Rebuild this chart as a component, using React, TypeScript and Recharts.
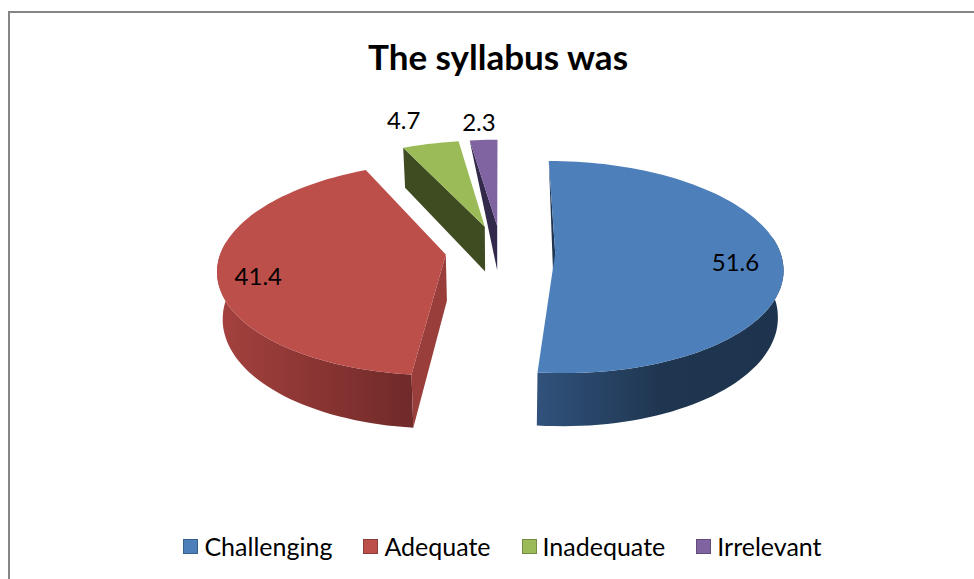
import { Legend, Pie, PieChart } from 'recharts'

const CATEGORIES = ['Challenging', 'Adequate', 'Inadequate', 'Irrelevant']
const VALUES = [51.6, 41.4, 4.7, 2.3]

const TOP_COLORS = ['#4d7fbb', '#bd4f4b', '#9bbb59', '#8064a2']
const WALL_COLORS = ['#1f3550', '#9a3e3c', '#3f4b21', '#33294a']
const RIM_STOPS = [
  ['#31527c', '#1f3650', '#1e344e'],
  ['#a5423f', '#8a3533', '#6f2a29'],
]

// how far each slice is pulled out of the pie, in radius units
const EXPLODE_X = [0.245, -0.24, -0.07, -0.013]
const EXPLODE_Y = [-0.01, -0.025, 0.25, 0.26]
const LABEL_RADIUS = [0.8, 0.84, 1.34, 1.22]
const LABEL_SHIFT_X = [-1, 4, -11, -2]
const LABEL_SHIFT_Y = [4, 6, 0, -2]
const TAPERED_WALL = [true, false, false, true]

const RAD = Math.PI / 180
const SQUASH = 0.462
const TILT = 0.132
const DEPTH = 46
const BASE_SHRINK = 0.98

// tilted view of the pie plane: far points shrink towards the chart centre
function project(cx: number, cy: number, r: number, px: number, py: number, base = false) {
  const w = 1 + TILT * py
  const x = (r * px) / w
  return {
    x: cx + (base ? x * BASE_SHRINK : x),
    y: cy + (-r * SQUASH * py + (base ? DEPTH : 0)) / w,
  }
}

function toPoints(pts: { x: number; y: number }[]) {
  return pts.map((p) => `${p.x.toFixed(1)},${p.y.toFixed(1)}`).join(' ')
}

function Slice3D(props: any) {
  const { cx, cy, outerRadius: r, startAngle, endAngle, index } = props
  const ex = EXPLODE_X[index]
  const ey = EXPLODE_Y[index]
  const at = (a: number, base = false) =>
    project(cx, cy, r, ex + Math.cos(a * RAD), ey + Math.sin(a * RAD), base)

  const angles: number[] = []
  const steps = Math.max(4, Math.ceil(Math.abs(endAngle - startAngle) / 2))
  for (let i = 0; i <= steps; i++) {
    angles.push(startAngle + ((endAngle - startAngle) * i) / steps)
  }

  const apex = project(cx, cy, r, ex, ey)
  const apexBase = project(cx, cy, r, ex, ey, true)
  const corner = at(startAngle)
  const cornerBase = at(startAngle, true)

  const top = [apex, ...angles.map((a) => at(a))]
  const wall = TAPERED_WALL[index]
    ? [corner, apex, apexBase]
    : [corner, apex, apexBase, cornerBase]

  // only the part of the rim facing the viewer shows
  const near = angles.filter((a) => Math.sin(a * RAD) < 0.15)
  const rim = [...near.map((a) => at(a)), ...near.slice().reverse().map((a) => at(a, true))]
  const stops = RIM_STOPS[index]

  return (
    <g>
      {stops && near.length > 1 && (
        <>
          <defs>
            <linearGradient id={`rim-${index}`} x1="0" y1="0" x2="1" y2="0">
              {stops.map((c, i) => (
                <stop key={c} offset={i / (stops.length - 1)} stopColor={c} />
              ))}
            </linearGradient>
          </defs>
          <polygon points={toPoints(rim)} fill={`url(#rim-${index})`} />
        </>
      )}
      <polygon points={toPoints(wall)} fill={WALL_COLORS[index]} />
      <polygon points={toPoints(top)} fill={props.fill} />
    </g>
  )
}

function renderLabel(props: any) {
  const { cx, cy, outerRadius: r, midAngle, index, value } = props
  const mid = midAngle * RAD
  const lr = LABEL_RADIUS[index]
  const p = project(cx, cy, r, EXPLODE_X[index] + Math.cos(mid) * lr, EXPLODE_Y[index] + Math.sin(mid) * lr)
  return (
    <text
      x={p.x + LABEL_SHIFT_X[index]}
      y={p.y + LABEL_SHIFT_Y[index]}
      textAnchor="middle"
      dominantBaseline="central"
      fontFamily="Lato"
      fontSize={24}
      fill="#000"
    >
      {value}
    </text>
  )
}

function renderLegend(props: any) {
  const items = props.payload ?? []
  return (
    <div style={{ display: 'flex', justifyContent: 'center', gap: 31 }}>
      {items.map((item: any) => (
        <span
          key={item.value}
          style={{ display: 'flex', alignItems: 'center', gap: 6, fontFamily: 'Lato', fontSize: 25, color: '#000' }}
        >
          <span
            style={{
              width: 13,
              height: 13,
              background: item.color,
              border: '1.5px solid rgba(0,0,0,0.25)',
            }}
          />
          {item.value}
        </span>
      ))}
    </div>
  )
}

const data = CATEGORIES.map((name, i) => ({ name, value: VALUES[i], fill: TOP_COLORS[i] }))

export default function App() {
  return (
    <div style={{ position: 'absolute', left: 0, top: 0, width: 974, height: 579, background: '#fff' }}>
      <div style={{ position: 'absolute', left: 8, top: 11, right: 0, height: 2, background: '#858585' }} />
      <div style={{ position: 'absolute', left: 8, top: 11, bottom: 0, width: 2, background: '#858585' }} />
      <PieChart width={974} height={579} margin={{ top: 0, right: 0, bottom: 0, left: 0 }}>
        <text
          x={498}
          y={56}
          textAnchor="middle"
          dominantBaseline="central"
          fontFamily="Lato"
          fontWeight={700}
          fontSize={35}
          fill="#000"
        >
          The syllabus was
        </text>
        <Pie
          data={data}
          dataKey="value"
          nameKey="name"
          cx={500}
          cy={252}
          innerRadius={0}
          outerRadius={225}
          startAngle={90}
          endAngle={-270}
          paddingAngle={0}
          stroke="none"
          shape={Slice3D}
          label={renderLabel}
          labelLine={false}
          isAnimationActive={false}
        />
        <Legend
          content={renderLegend}
          itemSorter={null}
          wrapperStyle={{ left: 0, width: 1005, top: 531 }}
        />
      </PieChart>
    </div>
  )
}
